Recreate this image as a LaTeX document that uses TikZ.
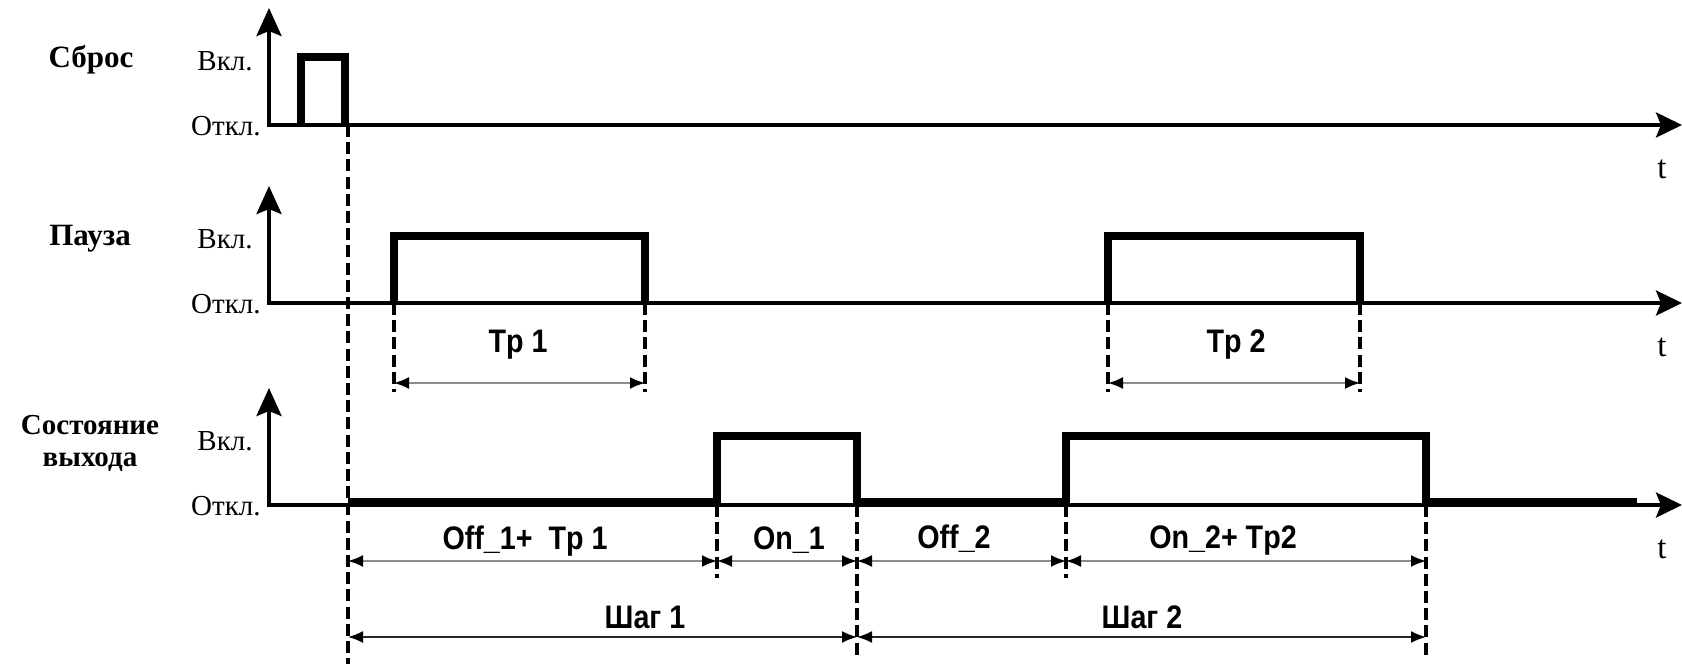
\documentclass[tikz,border=0pt]{standalone}
\usepackage{fontspec}
\setmainfont{Liberation Serif}
\newfontfamily\dimfont[FakeStretch=0.88]{Liberation Sans}
\usetikzlibrary{arrows.meta}
\tikzset{>=Latex}
\tikzstyle{timeaxis}=[line width=2pt,line join=miter,{Stealth[length=14pt,width=12.5pt,inset=2.5pt]}-{Stealth[length=13pt,width=12.5pt,inset=2.5pt]}]
\tikzstyle{signal}=[line width=4.3pt,line join=miter]
\tikzstyle{guide}=[line width=1.9pt,dash pattern=on 6pt off 2.6pt]
\tikzstyle{dim}=[line width=0.9pt,draw=black!45,{Latex[length=7.5pt,width=6pt,color=black]}-{Latex[length=7.5pt,width=6pt,color=black]}]
\tikzstyle{sigtitle}=[font=\bfseries\fontsize{15.5}{15}\selectfont,inner sep=0pt]
\tikzstyle{statetext}=[font=\fontsize{14.5}{15}\selectfont,inner sep=0pt]
\tikzstyle{dimtext}=[font=\dimfont\bfseries\fontsize{16.3}{17}\selectfont,inner sep=0pt,anchor=base]

\begin{document}
\begin{tikzpicture}[x=0.5pt,y=-0.5pt]
  \useasboundingbox (0,0) rectangle (1682,664);
  % moments of time
  \foreach \n/\x in {sbOn/301,sbOff/345,rst/348,p1on/394,p1off/645,p2on/1108,p2off/1360,
                     o1on/717,o1off/857,o2on/1066,o2off/1426,o2tail/1637}
    \coordinate (\n) at (\x,0);
  % heights
  \foreach \n/\y in {hi1/57,hi2/236,hi3/436,low3/502,tpdim/383,tpend/392,
                     dimA/561,dimB/637,shortEnd/578,longEnd/655,bottom/664}
    \coordinate (\n) at (0,\y);

  % axes with Вкл./Откл. and t
  \foreach \r/\y in {1/125,2/303,3/505}{
    \coordinate (base\r) at (0,\y);
    \coordinate (top\r) at (269,\y-117);
    \coordinate (org\r) at (269,\y);
    \coordinate (tip\r) at (1682,\y);
    \draw[timeaxis] (top\r) -- (org\r) -- (tip\r);
    \node[statetext,anchor=base east] (on\r) at (253,\y-55) {Вкл.};
    \node[statetext,anchor=base east] (off\r) at (261,\y+10) {Откл.};
    \node[font=\fontsize{16.5}{17}\selectfont,inner sep=0pt,anchor=base] (t\r) at (1662,\y+53) {t};
  }

  \node[sigtitle,anchor=base] (reset) at (91,68) {Сброс};
  \node[sigtitle,anchor=base] (pause) at (90,245) {Пауза};
  \node[sigtitle,font=\bfseries\fontsize{14.5}{13}\selectfont,anchor=base] (state1) at (90,434) {Состояние};
  \node[sigtitle,font=\bfseries\fontsize{14.5}{13}\selectfont,anchor=base] (state2) at (90,466) {выхода};

  % signals
  \draw[signal] (sbOn |- base1) |- (sbOff |- hi1) -- (sbOff |- base1);
  \draw[signal] (p1on |- base2) |- (p1off |- hi2) -- (p1off |- base2);
  \draw[signal] (p2on |- base2) |- (p2off |- hi2) -- (p2off |- base2);
  \draw[signal] (rst |- low3) -| (o1on |- hi3) -| (o1off |- low3) -| (o2on |- hi3)
                -| (o2off |- low3) -- (o2tail |- low3);

  % dashed guides
  \draw[guide] (rst |- base1) -- (rst |- bottom);
  \foreach \m in {p1on,p1off,p2on,p2off}
    \draw[guide] (\m |- base2) -- (\m |- tpend);
  \foreach \m in {o1on,o2on}
    \draw[guide] (\m |- base3) -- (\m |- shortEnd);
  \foreach \m in {o1off,o2off}
    \draw[guide] (\m |- base3) -- (\m |- longEnd);

  % durations
  \draw[dim] (p1on |- tpdim) -- (p1off |- tpdim);
  \draw[dim] (p2on |- tpdim) -- (p2off |- tpdim);
  \draw[dim] (rst |- dimA) -- (o1on |- dimA);
  \draw[dim] (o1on |- dimA) -- (o1off |- dimA);
  \draw[dim] (o1off |- dimA) -- (o2on |- dimA);
  \draw[dim] (o2on |- dimA) -- (o2off |- dimA);
  \draw[dim,draw=black!85] (rst |- dimB) -- (o1off |- dimB);
  \draw[dim,draw=black!85] (o1off |- dimB) -- (o2off |- dimB);

  \node[dimtext] (tp1) at (518,352) {Tp 1};
  \node[dimtext] (tp2) at (1236,352) {Tp 2};
  \node[dimtext] (off1) at (525,549) {Off\_1+\ \ Tp 1};
  \node[dimtext] (on1) at (789,549) {On\_1};
  \node[dimtext] (off2) at (954,548) {Off\_2};
  \node[dimtext] (on2) at (1223,548) {On\_2+ Tp2};
  \node[dimtext] (step1) at (645,628) {Шаг 1};
  \node[dimtext] (step2) at (1142,628) {Шаг 2};
\end{tikzpicture}
\end{document}
